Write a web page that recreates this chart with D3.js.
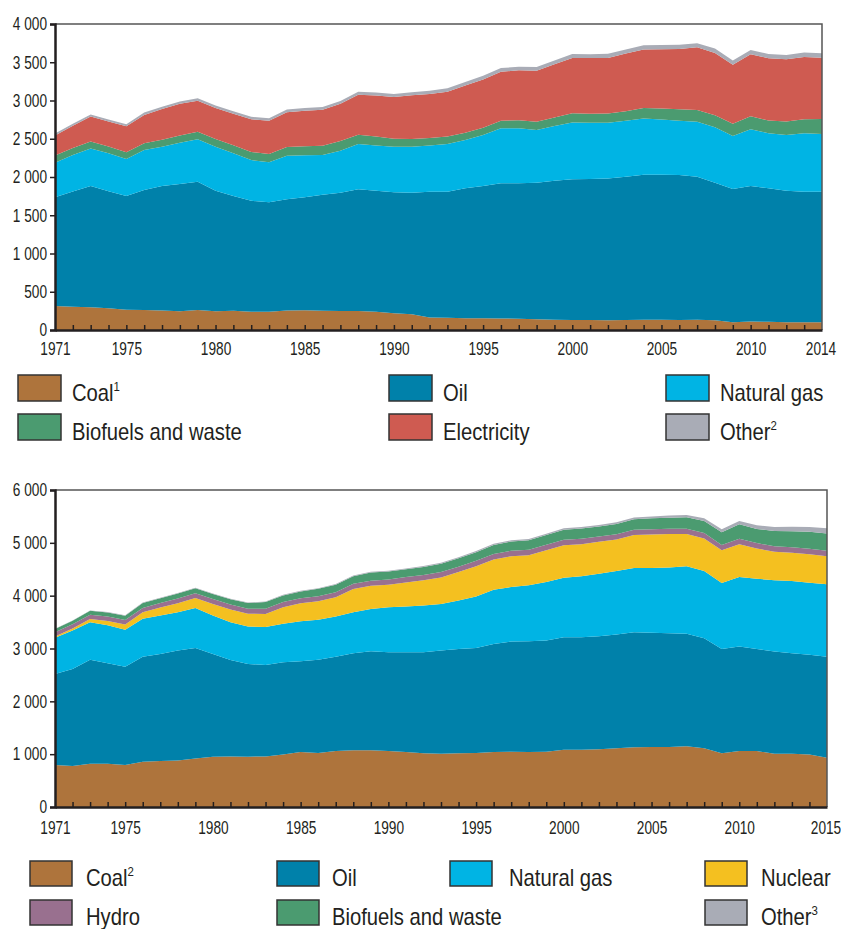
<!DOCTYPE html>
<html>
<head>
<meta charset="utf-8">
<script src="https://d3js.org/d3.v7.min.js"></script>
<style>
body { margin: 0; background: #fff; }
svg text { font-family: "Liberation Sans Narrow", "Arial Narrow", "Liberation Sans", sans-serif; fill: #231f20; }
</style>
</head>
<body>
<div id="chart"></div>
<script>
// ---- top panel: final consumption by fuel (Mtoe), 1971-2014
var tfcYears = d3.range(1971, 2015);
var tfcCoal = [314,305,296,285,265,262,255,245,262,245, 252,240,240,255,258,252,250,250,238,218,
  205,165,160,155,152,150,148,140,135,131, 130,128,130,133,135,132,135,126,100,110, 108,102,102,100];
var tfcOil = [1420,1505,1586,1530,1486,1568,1627,1663,1676,1576, 1499,1450,1429,1453,1476,1517,1545,1589,1583,1582,
  1590,1643,1648,1697,1730,1767,1769,1786,1817,1838, 1845,1854,1874,1897,1895,1894,1869,1800,1743,1772, 1744,1719,1706,1708];
var tfcGas = [453,477,492,494,484,522,514,540,554,575, 558,532,523,571,549,518,549,592,592,596,
  601,605,623,632,667,719,719,688,714,745, 735,728,732,736,723,710,719,723,693,741, 719,728,763,754];
var tfcBio = [95,92,90,90,90,90,92,95,100,102, 105,105,108,112,118,122,125,122,115,105,
  100,98,97,95,95,100,105,108,112,118, 118,120,125,135,142,148,152,158,160,170, 168,175,185,195];
var tfcElec = [262,291,326,326,339,370,400,413,405,405, 414,427,435,457,466,470,487,522,536,544,
  571,575,588,618,631,640,653,666,697,724, 727,727,754,767,776,789,820,815,771,810, 814,814,814,801];
var tfcOther = [24,26,27,28,27,30,31,30,32,31, 33,32,34,35,35,37,36,38,40,41,
  40,42,44,45,47,48,47,50,49,52, 51,53,52,55,54,56,55,57,55,58, 56,58,57,59];
var tfcLabelYears = [1971,1975,1980,1985,1990,1995,2000,2005,2010,2014];
var tfcTicks = [0,500,1000,1500,2000,2500,3000,3500,4000];

// ---- bottom panel: primary energy supply by fuel (Mtoe), 1971-2015
var tpesYears = d3.range(1971, 2016);
var tpesCoal = [793,774,818,818,793,857,869,882,920,952, 958,952,958,996,1040,1021,1059,1072,1072,1059,
  1040,1015,1008,1015,1021,1040,1046,1040,1046,1084, 1084,1091,1110,1129,1135,1135,1148,1110,1015,1059, 1059,1008,1008,996,933];
var tpesOil = [1724,1837,1971,1901,1863,1989,2028,2078,2091,1945, 1825,1755,1730,1742,1717,1768,1787,1837,1875,1869,
  1888,1913,1952,1977,1990,2047,2085,2097,2104,2129, 2129,2141,2154,2179,2165,2154,2129,2084,1977,1977, 1933,1933,1901,1888,1913];
var tpesGas = [687,731,710,721,698,715,727,727,757,727, 716,710,717,729,760,754,759,778,802,853,
  865,884,883,918,975,1026,1033,1058,1109,1128, 1153,1185,1204,1217,1225,1242,1279,1274,1248,1318, 1330,1349,1369,1362,1368];
var tpesNuclear = [25,35,60,80,100,125,150,170,188,220, 240,240,250,314,339,350,364,440,439,426,
  458,480,502,539,570,570,583,571,602,615, 609,603,596,622,634,635,610,615,621,621, 571,540,532,539,533];
var tpesHydro = [80,82,80,85,85,82,85,90,92,93, 95,97,98,98,97,98,96,98,95,98,
  100,98,102,100,104,106,104,103,105,104, 100,98,97,99,100,101,99,102,100,104, 103,104,106,104,101];
var tpesBio = [62,66,75,78,82,94,94,94,94,94, 100,107,125,125,126,138,144,144,156,151,
  148,152,156,160,164,170,175,178,180,190, 195,190,195,200,205,210,220,230,241,272, 266,290,305,320,330];
var tpesOther = [5,5,6,6,7,7,8,8,9,9, 10,10,11,12,12,13,14,14,15,16,
  17,18,19,20,21,22,23,24,25,27, 28,30,32,34,36,40,44,50,56,62, 70,78,85,92,100];
var tpesLabelYears = [1971,1975,1980,1985,1990,1995,2000,2005,2010,2015];
var tpesTicks = [0,1000,2000,3000,4000,5000,6000];

// fuel colours and legend text
var fuelColor = {
  coal: "#ae743c", oil: "#0081aa", gas: "#00b4e4", nuclear: "#f4c020",
  hydro: "#99708f", bio: "#4b9b70", elec: "#cf5b51", other: "#a9acb6"
};
var topKeys = ["coal", "oil", "gas", "bio", "elec", "other"];
var topLabels = ["Coal", "Oil", "Natural gas", "Biofuels and waste", "Electricity", "Other"];
var topSups = ["1", "", "", "", "", "2"];
var botKeys = ["coal", "oil", "gas", "nuclear", "hydro", "bio", "other"];
var botLabels = ["Coal", "Oil", "Natural gas", "Nuclear", "Hydro", "Biofuels and waste", "Other"];
var botSups = ["2", "", "", "", "", "", "3"];

var fmt = d3.formatLocale({decimal: ".", thousands: " ", grouping: [3], currency: ["", ""]}).format(",");

var svg = d3.select("#chart").append("svg")
  .attr("width", 841)
  .attr("height", 929);

// no narrow font installed, so squeeze text horizontally around its anchor
function condense(sel, k) {
  sel.each(function() {
    var t = d3.select(this);
    var x = +t.attr("x") || 0;
    t.attr("x", x / k).attr("transform", "scale(" + k + ",1)");
  });
}

function drawPanel(opt) {
  var rows = opt.years.map(function(yr, i) {
    var r = {year: yr};
    opt.keys.forEach(function(k) { r[k] = opt.series[k][i]; });
    return r;
  });
  var stacked = d3.stack().keys(opt.keys)(rows);

  var x = d3.scaleLinear()
    .domain([opt.years[0], opt.years[opt.years.length - 1]])
    .range([opt.left, opt.right]);
  var y = d3.scaleLinear()
    .domain([0, opt.ticks[opt.ticks.length - 1]])
    .range([opt.bottom, opt.top]);

  var area = d3.area()
    .x(function(d) { return x(d.data.year); })
    .y0(function(d) { return y(d[0]); })
    .y1(function(d) { return y(d[1]); });

  var g = svg.append("g");
  g.selectAll("path.layer")
    .data(stacked)
    .enter().append("path")
    .attr("class", "layer")
    .attr("d", area)
    .style("fill", function(d) { return fuelColor[d.key]; });

  // frame top + right
  g.append("path")
    .attr("d", "M" + opt.left + "," + opt.top + "H" + opt.right + "V" + opt.bottom)
    .style("fill", "none")
    .style("stroke", "#555")
    .style("stroke-width", 1.5);

  // small year ticks on the bottom line, pointing up
  var minor = g.append("g")
    .attr("transform", "translate(0," + opt.bottom + ")")
    .call(d3.axisBottom(x).tickValues(opt.years.slice(1, -1)).tickSize(-5).tickFormat(""));
  minor.select(".domain").remove();
  minor.selectAll("line").style("stroke", "#231f20").style("stroke-width", 1.5);

  var xAxis = g.append("g")
    .attr("transform", "translate(0," + opt.bottom + ")")
    .call(d3.axisBottom(x).tickValues(opt.labelYears).tickSize(0).tickPadding(opt.xPad).tickFormat(d3.format("d")));
  xAxis.select(".domain").style("stroke", "#231f20").style("stroke-width", 2.5);
  xAxis.selectAll("text").style("font-size", "18px").call(condense, 0.76);
  // keep the last year label inside the page
  xAxis.selectAll(".tick:last-of-type text").attr("dx", -2);

  var yAxis = g.append("g")
    .attr("transform", "translate(" + opt.left + ",0)")
    .call(d3.axisLeft(y).tickValues(opt.ticks).tickSize(5).tickPadding(3).tickFormat(fmt));
  yAxis.select(".domain").style("stroke", "#231f20").style("stroke-width", 2.5);
  yAxis.selectAll("line").style("stroke", "#231f20").style("stroke-width", 1.5);
  yAxis.selectAll("text").style("font-size", "18px").call(condense, 0.76);

  // legend
  var leg = svg.append("g");
  opt.keys.forEach(function(k, i) {
    var pos = opt.legendPos[i];
    leg.append("rect")
      .attr("x", pos[0])
      .attr("y", pos[1])
      .attr("width", opt.swatch[0])
      .attr("height", opt.swatch[1])
      .style("fill", fuelColor[k])
      .style("stroke", "#333")
      .style("stroke-width", 1.5);
    var t = leg.append("text")
      .attr("x", pos[0] + opt.swatch[0] + opt.gap[i])
      .attr("y", pos[1] + opt.swatch[1])
      .style("font-size", "23px")
      .text(opt.labels[i]);
    if (opt.sups[i]) {
      t.append("tspan")
        .attr("dy", -10)
        .style("font-size", "13px")
        .text(opt.sups[i]);
    }
    t.call(condense, 0.88);
  });
}

drawPanel({
  years: tfcYears,
  keys: topKeys,
  series: {coal: tfcCoal, oil: tfcOil, gas: tfcGas, bio: tfcBio, elec: tfcElec, other: tfcOther},
  ticks: tfcTicks,
  labelYears: tfcLabelYears,
  left: 55, right: 822, top: 24, bottom: 330, xPad: 12,
  labels: topLabels, sups: topSups,
  swatch: [43, 26],
  gap: [11, 11, 11, 11, 11, 11],
  legendPos: [[18, 375], [389, 375], [666, 375], [18, 414], [389, 414], [666, 414]]
});

drawPanel({
  years: tpesYears,
  keys: botKeys,
  series: {coal: tpesCoal, oil: tpesOil, gas: tpesGas, nuclear: tpesNuclear, hydro: tpesHydro, bio: tpesBio, other: tpesOther},
  ticks: tpesTicks,
  labelYears: tpesLabelYears,
  left: 55, right: 827, top: 490, bottom: 807, xPad: 14,
  labels: botLabels, sups: botSups,
  swatch: [42, 25],
  gap: [14, 13, 17, 14, 14, 13, 14],
  legendPos: [[30, 861], [277, 861], [450, 861], [705, 861], [30, 900], [277, 900], [705, 900]]
});
</script>
</body>
</html>
